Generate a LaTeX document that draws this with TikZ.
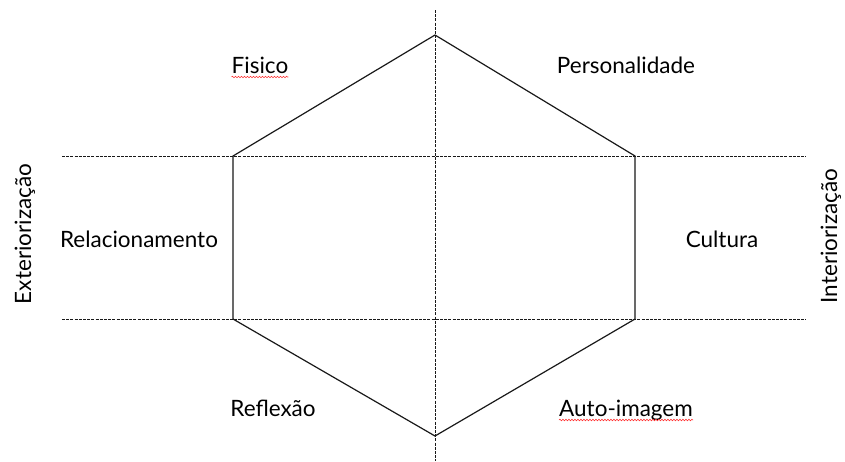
\documentclass[tikz,border=0pt]{standalone}
\usepackage{fontspec}
\setmainfont{Lato}
\usetikzlibrary{decorations.pathmorphing}
\begin{document}
\begin{tikzpicture}[x=1pt,y=-1pt,
  hexline/.style={draw=black!90,line width=1.2pt,line join=miter},
  guide/.style={draw=black!90,line width=0.8pt,dash pattern=on 3pt off 1.2pt},
  lbl/.style={font=\fontsize{22.5}{24}\selectfont,inner sep=0pt,anchor=base},
  spell/.style={draw=red!80,line width=0.6pt,decorate,decoration={snake,amplitude=0.8pt,segment length=3pt}}]
\useasboundingbox (0,0) rectangle (845,461);
% guides
\coordinate (vt) at (435,10);
\coordinate (vb) at (435,461);
\coordinate (h1l) at (62,156);
\coordinate (h1r) at (806,156);
\coordinate (h2l) at (62,319);
\coordinate (h2r) at (806,319);
\draw[guide] (vt) -- (vb);
\draw[guide] (h1l) -- (h1r);
\draw[guide] (h2l) -- (h2r);
% hexagon
\coordinate (T) at (435,35);
\coordinate (UL) at (233,156);
\coordinate (UR) at (635,156);
\coordinate (LL) at (233,319);
\coordinate (LR) at (635,319);
\coordinate (B) at (435,436);
\draw[hexline] (T) -- (UR) -- (LR) -- (B) -- (LL) -- (UL) -- cycle;
% labels
\node[lbl] (fis) at (260,73) {Fisico};
\node[lbl] (per) at (626,73) {Personalidade};
\node[lbl] (rel) at (139,247) {Relacionamento};
\node[lbl] (cul) at (722,247) {Cultura};
\node[lbl] (ref) at (273,416) {Reflexão};
\node[lbl] (aut) at (626,416) {Auto-imagem};
\node[lbl,rotate=90,anchor=center] (ext) at (25,234) {Exteriorização};
\node[lbl,rotate=90,anchor=center] (int) at (831,236) {Interiorização};
\draw[spell] ([yshift=-4pt]fis.base west) -- ([yshift=-4pt]fis.base east);
\draw[spell] ([yshift=-4pt]aut.base west) -- ([yshift=-4pt]aut.base east);
\end{tikzpicture}
\end{document}
